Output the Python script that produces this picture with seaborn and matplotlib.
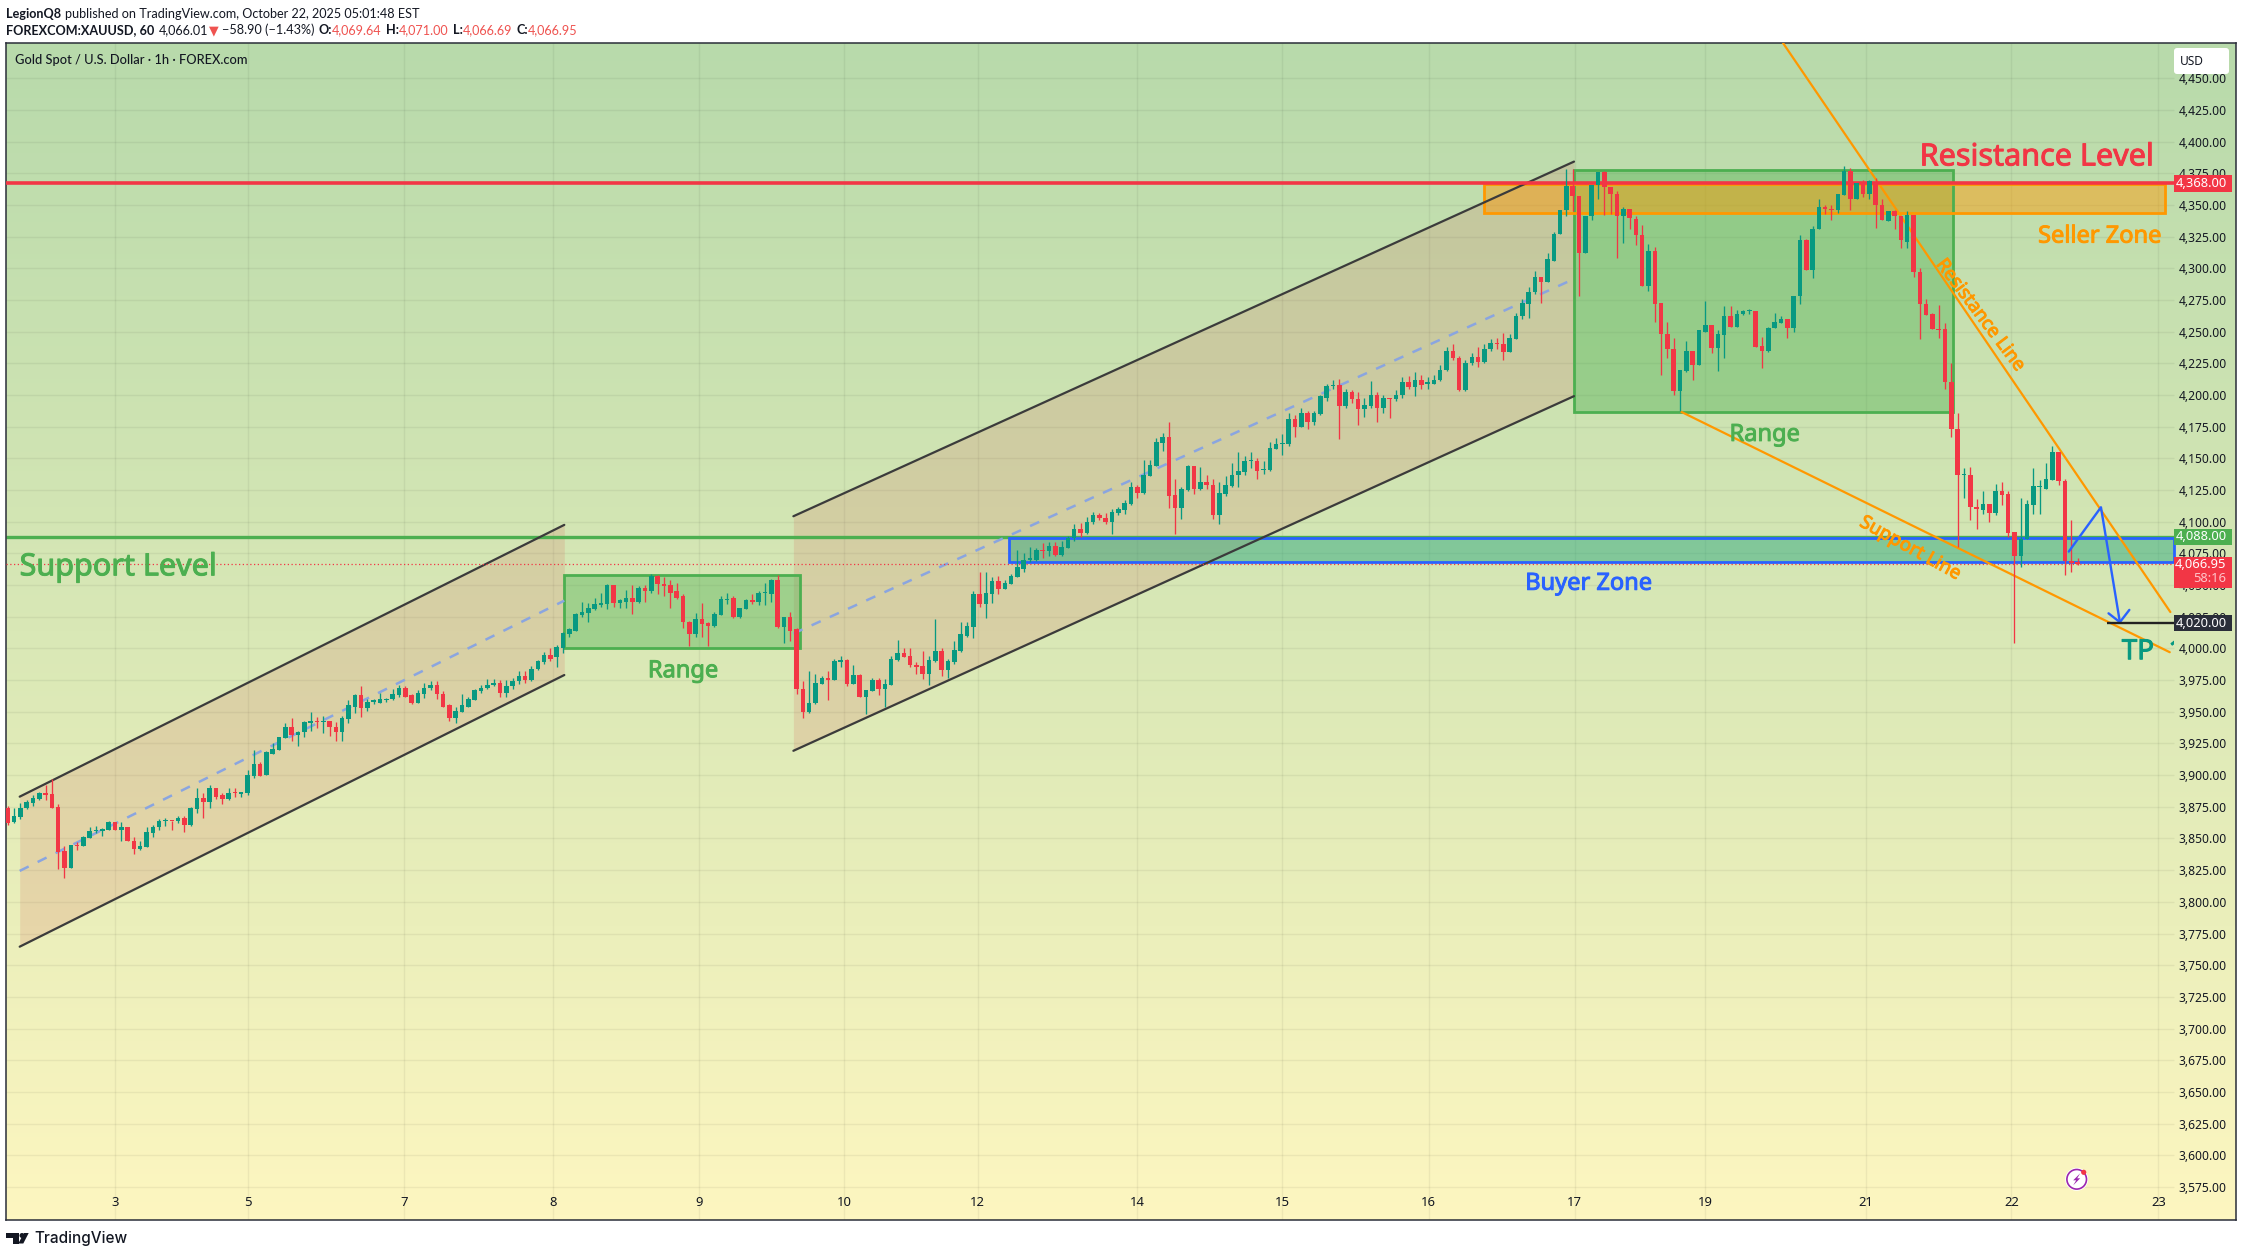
import numpy as np
import matplotlib
matplotlib.use('Agg')
import matplotlib.pyplot as plt
import matplotlib.patheffects as pe
import seaborn as sns
from matplotlib.patches import Rectangle, Circle, Polygon, FancyBboxPatch
from matplotlib.transforms import IdentityTransform

# OHLC, one block per stretch of the chart
opens_a = [3874,3863,3867,3874,3878,3881,3886,3885,3875,3840,3827,3845,3844,3850,3856,3856,3857,3863,3857,3859,
           3848,3842,3843,3854,3859,3864,3864,3863.5,3866,3861,3873,3882,3879,3889.5,3884,3881,3886,3885,3886,3899,
           3909,3900,3917,3920,3929,3938,3932,3934,3941,3942.5,3942,3942.5,3938,3934,3944,3954,3963,3953,3958,3957,
           3959,3960,3963,3969,3963,3957,3964,3969,3971,3964,3955,3945,3950,3954,3959,3966,3969,3971,3973,3965,
           3970,3974,3978,3975]
closes_a = [3862,3868,3874,3879,3882,3886,3884,3874,3839,3827,3845,3844,3851,3856,3856.5,3857.5,3863,3857,3859,3848,
            3842,3844,3855,3859,3864,3864.5,3863.5,3866,3861,3874,3882,3879,3889.5,3883,3881,3886,3885.5,3887,3900,3909,
            3899.5,3918,3921,3930,3938,3932,3934,3942,3942.5,3942,3942,3938,3934,3945,3955,3963,3953,3958,3958,3960,
            3960,3964,3969,3962,3957,3965,3969,3971,3964,3954,3945,3951,3955,3960,3967,3969,3971,3973,3965,3970,
            3974,3978,3975,3984]
highs_a = [3876,3874,3878,3880,3884,3887,3892,3897,3877,3844,3845,3847,3852,3859,3860,3858,3863.5,3863,3863,3859,
           3851,3848,3859,3861,3865,3866,3864,3867.5,3867.5,3875,3890,3886,3892,3889.5,3886,3889.5,3889.5,3887,3904,3920,
           3910,3919,3925,3930,3941,3945,3935,3943,3949.5,3946,3947,3943,3942,3947,3959,3964,3970,3960,3960,3965,
           3961,3968,3971,3970,3964,3967,3973,3974,3974,3966,3956,3954,3964,3962,3968,3971,3976,3976,3975,3975,
           3977,3982,3982,3986]
lows_a = [3861,3862,3865,3873,3876,3880,3880,3874,3826,3819,3827,3841,3844,3850,3854,3852,3857,3857,3848,3848,
          3838,3841,3843,3851,3857,3860,3857,3862,3855,3860,3870,3866,3874,3881,3877,3880,3883,3883,3884,3898,
          3899,3900,3917,3920,3929,3927,3923,3930,3935,3937,3933,3931,3927,3927,3941,3949,3946,3951,3956,3957,
          3958,3959,3962,3962,3956,3957,3961,3967,3960,3954,3943,3941,3950,3954,3959,3965,3968,3970,3962,3962,
          3968,3972,3973,3974]

opens_b = [3984,3989,3995,3993,4000,4011,4014,4026,4028,4031,4034,4035,4050,4036,4037,4040,4037,4048,4045,4057,
           4051,4050,4045,4041,4021,4011,4023,4020,4018,4026,4038,4040,4025,4031,4038,4037,4044,4043,4054,4017,
           4025,4015,3968,3950,3957,3972,3977,3975,3989,3991,3972,3979,3962,3966,3975,3968,3971,3991,3996,3994,
           3987,3986,3980,3990,3998,3983,3989,3998,4010,4017,4043,4035,4043,4053,4047,4051,4056,4063,4070,4070,
           4078,4077,4081,4074,4079]
closes_b = [3990,3995,3992,4001,4012,4015,4027,4029,4032,4035,4036,4050,4036,4038,4040,4037,4048,4045,4057,4051,
            4049,4044,4040,4021,4011,4023,4019,4018,4027,4039,4039,4025,4032,4038,4037,4044,4044,4054,4017,4025,
            4014,3968,3950,3957,3973,3977,3975,3990,3991,3972,3979,3962,3967,3975,3968,3972,3992,3996,3993,3987,
            3985,3980,3991,3998,3983,3990,3999,4011,4018,4043,4035,4044,4053,4047,4052,4057,4064,4070,4071,4078,
            4077,4081,4074,4080,4087]
highs_b = [3991,3997,4000,4003,4013,4016,4028,4037,4036,4040,4044,4051,4050,4039,4046,4050,4049,4050,4059,4058,
           4056,4054,4052,4043,4022,4028,4036,4021,4029,4041,4044,4041,4032,4039,4043,4045,4052,4055,4058,4025,
           4029,4016,3974,3982,3980,3978,3982,3992,3994,3992,3987,3980,3967,3977,3977,3976,3994,4007,4000,4000,
           3989,3998,3994,4023,4000,3992,4006,4021,4021,4045,4060,4060,4056,4057,4054,4059,4078,4075,4080,4079,
           4083,4084,4084,4085,4089]
lows_b = [3983,3988,3990,3985,3996,4009,4014,4025,4021,4030,4033,4031,4033,4032,4032,4027,4036,4037,4044,4043,
          4041,4032,4039,4016,4002,4009,4009,4002,4017,4026,4035,4024,4024,4031,4035,4034,4034,4037,4016,4004,
          4006,3964,3945,3949,3956,3972,3959,3975,3985,3970,3972,3962,3948,3966,3963,3954,3971,3990,3993,3985,
          3980,3976,3971,3989,3978,3977,3988,3997,4009,4008,4033,4024,4036,4043,4047,4051,4056,4060,4068,4069,
          4071,4073,4073,4073,4079]

opens_c = [4087,4094,4091,4100,4105,4103,4100,4107,4109,4114,4127,4123,4136,4144,4162,4167,4121,4111,4125,4144,
           4126,4131,4129,4105,4122,4128,4137,4139,4148,4148,4141,4141,4157,4161,4161,4181,4175,4186,4179,4185,
           4198,4207,4208,4191,4202,4197,4189,4191,4200,4190,4198,4197,4200,4210,4206,4212,4209,4209,4212,4220,
           4235,4229,4204,4225,4230,4226,4236,4241]
closes_c = [4094,4091,4100,4105,4103,4100,4108,4110,4115,4127,4123,4137,4145,4163,4167,4120,4111,4126,4144,4126,
            4131,4129,4105,4123,4129,4137,4140,4148,4148.5,4140,4141.5,4158,4161,4161.5,4181,4175,4186,4179,4186,4199,
            4207,4207.5,4191,4202,4197,4189,4192,4200,4190,4198,4197,4200,4210,4206,4212,4208,4210,4212,4220,4235,
            4229,4204,4225,4230,4226,4236,4241,4240]
highs_c = [4098,4099,4104,4108,4107,4107,4110,4112,4117,4131,4129,4149,4149,4166,4170,4179,4134,4127,4145,4144,
           4143,4137,4134,4131,4136,4146,4155,4152,4155,4150,4148,4163,4166,4169,4186,4184,4190,4187,4187,4200,
           4209,4212,4213,4205,4204,4202,4198,4211,4202,4200,4198,4204,4214,4215,4218,4216,4214,4216,4224,4238,
           4240,4231,4228,4233,4238,4240,4244,4245]
lows_c = [4085,4088,4090,4098,4101,4098,4090,4105,4106,4113,4119,4122,4136,4144,4156,4111,4090,4102,4124,4122,
          4125,4126,4102,4098,4120,4127,4127,4137,4142,4134,4138,4140,4157,4153,4160,4167,4175,4173,4176,4184,
          4195,4205,4165,4190,4194,4176,4183,4190,4179,4186,4182,4195,4198,4205,4199,4205,4205,4209,4211,4219,
          4228,4203,4203,4224,4222,4225,4235,4236]

opens_d = [4240,4234,4244,4262,4272,4281,4293,4289,4306,4327,4346,4365,4357,4312,4341,4366,4376,4364,4359,4341,
           4347,4339,4326,4286,4314,4273,4248,4236,4203,4219,4235,4224,4250,4255,4237,4247,4262,4254,4264,4266,4266.5,
           4239,4235,4253,4257,4260,4253,4278,4322,4299,4331,4348,4347,4346,4358,4377,4355,4367,4359,4368,4350,
           4337,4345,4341,4321,4342,4297,4272,4264,4252,4252,4210]
closes_d = [4234,4245,4262,4273,4281,4293,4289,4307,4327,4346,4365,4357,4312,4341,4366,4376,4364,4359,4341,4347,
            4340,4326,4286,4314,4272,4248,4236,4203,4220,4235,4224,4251,4255,4237,4248,4262,4254,4264,4266,4266.5,4238,
            4235,4253,4258,4260,4253,4278,4322,4299,4331,4348,4347,4346,4359,4377,4355,4367,4359,4369,4350,4338,
            4345,4341,4322,4342,4297,4272,4263,4252,4251.5,4210,4173]
highs_d = [4249,4248,4265,4276,4285,4298,4293,4312,4329,4346,4378,4378,4357,4341,4366,4376,4377,4364,4361,4348,
           4347,4341,4334,4319,4317,4273,4258,4245,4220,4243,4235,4251,4274,4255,4251,4270,4270,4267,4267,4268,4266,
           4246,4254,4265,4262,4260,4278,4326,4323,4333,4355,4350,4350,4359,4381,4379,4367,4370,4370,4371,4355,
           4345,4346,4341,4345,4342,4300,4276,4265,4271,4257,4225]
lows_d = [4228,4234,4244,4260,4261,4280,4273,4289,4306,4327,4341,4345,4278,4312,4338,4355,4342,4343,4308,4320,
          4331,4318,4286,4282,4258,4216,4229,4200,4187,4218,4212,4224,4250,4233,4219,4229,4254,4254,4263,4264,4238,
          4221,4234,4253,4257,4245,4250,4272,4299,4292,4331,4343,4338,4344,4358,4346,4355,4356,4355,4332,4338,
          4337,4331,4316,4316,4293,4244,4263,4252,4245,4205,4167]

opens_e = [4173,4137,4137,4112,4109,4114,4107,4124,4122,4092,4073,4086,4113,4127,4126,4133,4155,4132,4069,4068]
closes_e = [4137,4137,4112,4110,4114,4107,4124,4121,4091,4073,4086,4114,4128,4127,4134,4155,4132,4069,4067.5,4066.95]
highs_e = [4186,4142,4143,4118,4124,4114,4130,4131,4124,4092,4119,4117,4142,4133,4146,4160,4155,4134,4101,4071]
lows_e = [4080,4119,4101,4094,4106,4100,4105,4113,4088,4004,4064,4086,4106,4106,4126,4133,4129,4058,4060,4066]

opens = np.array(opens_a + opens_b + opens_c + opens_d + opens_e)
closes = np.array(closes_a + closes_b + closes_c + closes_d + closes_e)
highs = np.array(highs_a + highs_b + highs_c + highs_d + highs_e)
lows = np.array(lows_a + lows_b + lows_c + lows_d + lows_e)

day_labels = ['3', '5', '7', '8', '9', '10', '12', '14', '15', '16', '17', '19', '21', '22', '23']
day_bars = [17, 38, 62.8, 86.4, 109.5, 132.6, 153.7, 179, 202, 225.2, 248.3, 269, 294.5, 317.5, 340.8]
price_ticks = list(range(3575, 4475, 25))

W, H = 2242, 1257
GREEN, RED = '#089981', '#f23645'
RANGE_C, ORANGE, BLUE = '#4caf50', '#ff9800', '#2962ff'
TEXT_C = '#131722'
AXIS_END = 343.2  # where the price scale begins

sns.set_theme(style='white')
plt.rcParams['font.family'] = ['Noto Sans', 'DejaVu Sans']

fig = plt.figure(figsize=(W / 100, H / 100), dpi=100, facecolor='white')
ax = fig.add_axes([6 / W, 1 - 1220 / H, (2236 - 6) / W, (1220 - 43) / H])

x0, x1 = -0.27, 353.1
y0, y1 = 3548.9, 4477.8

# background gradient
cmap = sns.blend_palette(['#b8daab', '#d9e8b6', '#fdf6c0'], as_cmap=True)
ax.imshow(np.linspace(0, 1, 256).reshape(-1, 1), cmap=cmap, aspect='auto', origin='upper',
          extent=(x0, x1, y0, y1), zorder=0)

# grid
ax.hlines(price_ticks, x0, AXIS_END, color='#000000', alpha=0.055, lw=1.0, zorder=1)
ax.vlines(day_bars, y0, y1, color='#000000', alpha=0.055, lw=1.0, zorder=1)


def box(a, b, low, high, face, edge, alpha, lw=2.0, z=2):
    ax.add_patch(Rectangle((a, low), b - a, high - low, facecolor=face, alpha=alpha, edgecolor='none', zorder=z))
    ax.add_patch(Rectangle((a, low), b - a, high - low, facecolor='none', edgecolor=edge, lw=lw, zorder=z + 0.2))


def seg(xs, ys, color, lw=1.6, z=3, **kw):
    sns.lineplot(x=xs, y=ys, ax=ax, color=color, lw=lw, zorder=z, sort=False, legend=False, **kw)


def note(x, y, txt, color, size, **kw):
    return ax.text(x, y, txt, color=color, fontsize=size, ha=kw.pop('ha', 'center'), va='center', zorder=6,
                   path_effects=[pe.withStroke(linewidth=0.7, foreground=color)], **kw)


# channels
for a, b, lo0, lo1, hi0, hi1, m0, m1 in [(1.9, 88.2, 3764.6, 3979, 3883, 4097.5, 3824.4, 4037.7),
                                        (124.5, 248.2, 3919.2, 4199.1, 4104.3, 4384.2, 4011.7, 4291.6)]:
    ax.fill_between([a, b], [lo0, lo1], [hi0, hi1], color='#d45e54', alpha=0.17, lw=0, zorder=1.5)
    seg([a, b], [lo0, lo1], '#3b3b3b')
    seg([a, b], [hi0, hi1], '#3b3b3b')
    seg([a, b], [m0, m1], '#8aa5e0', lw=1.8, linestyle=(0, (4, 4)))

# zones and boxes
box(88.2, 125.6, 4000.5, 4058, RANGE_C, RANGE_C, 0.40)
box(248.2, 308.3, 4186.7, 4377.4, RANGE_C, RANGE_C, 0.40)
box(233.9, 341.8, 4343.5, 4366.5, ORANGE, ORANGE, 0.45)
box(158.7, AXIS_END, 4068.5, 4087, '#1fa37a', BLUE, 0.45)

# levels
ax.hlines(4367, x0, AXIS_END, color=RED, lw=2.6, zorder=3.2)
ax.hlines(4088, x0, AXIS_END, color=RANGE_C, lw=2.4, zorder=2.1)
ax.hlines(4066.95, x0, AXIS_END, color=RED, lw=0.9, linestyles=(0, (1, 2)), zorder=3)

# trend lines
seg([281.3, 342.7], [4477.9, 4028.7], ORANGE, lw=1.6)
seg([265.2, 342.6], [4186.7, 3997], ORANGE, lw=1.6)

# candles
bars_x = np.arange(len(opens))
up = closes >= opens
body_low = np.minimum(opens, closes)
body_h = np.maximum(np.abs(closes - opens), 0.9)
colors = np.where(up, GREEN, RED)
ax.vlines(bars_x, lows, highs, colors=colors, lw=0.95, zorder=4)
ax.bar(bars_x, body_h, bottom=body_low, width=0.72, color=colors, lw=0, zorder=4.1)

# projected path
seg([326.6, 331.7, 334.7], [4076.4, 4111.4, 4020.7], BLUE, lw=1.7, z=5)
seg([332.9, 334.7, 336.2], [4027.7, 4020.7, 4030.4], BLUE, lw=1.7, z=5)
ax.hlines(4020, 332.6, AXIS_END, color='#222222', lw=1.7, zorder=5)

# chart notes
note(17.5, 4064, 'Support Level', RANGE_C, 22)
note(321.5, 4387.5, 'Resistance Level', RED, 22)
note(331.5, 4325, 'Seller Zone', ORANGE, 17)
note(250.5, 4051, 'Buyer Zone', BLUE, 17)
note(107, 3982, 'Range', RANGE_C, 17)
note(278.4, 4168.5, 'Range', RANGE_C, 17)
note(312.6, 4263, 'Resistance Line', ORANGE, 13.5, rotation=-53, rotation_mode='anchor')
note(301.5, 4079, 'Support Line', ORANGE, 13.5, rotation=-29, rotation_mode='anchor')
tp = note(335, 3997, 'TP  1', GREEN, 20, ha='left', clip_on=True)
tp.set_clip_path(Rectangle((x0, y0), AXIS_END - x0, y1 - y0, transform=ax.transData))

# axes
ax.set_xlim(x0, x1)
ax.set_ylim(y0, y1)
ax.set_xlabel('')
ax.set_ylabel('')
ax.set_xticks(day_bars, day_labels)
ax.set_yticks(price_ticks, [f'{p:,.2f}' for p in price_ticks])
ax.yaxis.tick_right()
ax.tick_params(axis='y', length=0, pad=-41.5, labelsize=8.7, labelcolor=TEXT_C)
ax.tick_params(axis='x', length=0, pad=-17, labelsize=9.4, labelcolor=TEXT_C)
for s in ax.spines.values():
    s.set_color('#2a2e39')
    s.set_linewidth(1.1)


def tag(low, high, color, lines):
    ax.add_patch(Rectangle((AXIS_END, low), x1 - AXIS_END - 0.6, high - low, facecolor=color, edgecolor='none', zorder=7))
    for y, txt, c in lines:
        ax.text(x1 - 1.5, y, txt, color=c, fontsize=9.3, ha='right', va='center', zorder=8)


tag(4360.5, 4373.5, RED, [(4367, '4,368.00', 'white')])
tag(4081.5, 4094.5, RANGE_C, [(4088, '4,088.00', 'white')])
tag(4047.5, 4072.5, RED, [(4066.5, '4,066.95', 'white'), (4055, '58:16', '#ffc4c9')])
tag(4013.5, 4026.5, '#2a2e39', [(4020, '4,020.00', 'white')])


# page furniture in pixel coordinates
def px(x, y):
    return (x, H - y)


idt = IdentityTransform()
fig.add_artist(FancyBboxPatch(px(2174, 74), 55, 26, boxstyle='round,pad=0,rounding_size=3', facecolor='white',
                              edgecolor='none', transform=idt, zorder=9))
fig.text(2192 / W, 1 - 61.5 / H, 'USD', fontsize=8.6, color=TEXT_C, ha='center', va='center', zorder=10)

head_font = ['Lato', 'DejaVu Sans']


def chain(parts, x, y, size=9.1):
    prev = fig.text(x / W, 1 - y / H, parts[0][0], fontsize=size, color=parts[0][1], fontweight=parts[0][2],
                    family=head_font, va='bottom')
    for txt, col, wt, gap in parts[1:]:
        prev = ax.annotate(txt, xy=(1, 0), xycoords=prev, xytext=(gap, 0), textcoords='offset points',
                           fontsize=size, color=col, fontweight=wt, family=head_font, va='bottom',
                           annotation_clip=False)


UP_T = '#ef5350'
chain([('LegionQ8', TEXT_C, 'bold'),
       ('published on TradingView.com, October 22, 2025 05:01:48 EST', TEXT_C, 'normal', 2.5)], 6, 19.5)
chain([('FOREXCOM:XAUUSD, 60', TEXT_C, 'bold'),
       ('4,066.01', TEXT_C, 'normal', 3),
       ('▼', UP_T, 'normal', 1),
       ('−58.90 (−1.43%)', TEXT_C, 'normal', 2),
       ('O:', TEXT_C, 'bold', 3),
       ('4,069.64', UP_T, 'normal', 0),
       ('H:', TEXT_C, 'bold', 3),
       ('4,071.00', UP_T, 'normal', 0),
       ('L:', TEXT_C, 'bold', 3),
       ('4,066.69', UP_T, 'normal', 0),
       ('C:', TEXT_C, 'bold', 3),
       ('4,066.95', UP_T, 'normal', 0)], 6, 36.5)
fig.text(15 / W, 1 - 60 / H, 'Gold Spot / U.S. Dollar · 1h · FOREX.com', fontsize=9.3, color=TEXT_C,
         family=head_font, fontweight='medium', va='center', zorder=10)

# lightning badge
cx, cy = 2076.7, 1179.3
fig.add_artist(Circle(px(cx, cy), 11.5, facecolor='white', edgecolor='none', transform=idt, zorder=9))
fig.add_artist(Circle(px(cx, cy), 9.8, facecolor='white', edgecolor='#9c27b0', lw=1.2, transform=idt, zorder=10))
bolt = [(3.5, -6), (-3.5, 1), (-0.5, 1), (-3.5, 6), (3.5, -1), (0.5, -1)]
fig.add_artist(Polygon([px(cx + a, cy + b) for a, b in bolt], facecolor='#9c27b0', edgecolor='none',
                       transform=idt, zorder=11))
fig.add_artist(Circle(px(cx + 7, cy - 7), 2.6, facecolor=RED, edgecolor='none', transform=idt, zorder=11))

# TradingView mark
logo = '#131722'
for pts in [[(6, 1233), (18.7, 1233), (18.7, 1243.5), (12.7, 1243.5), (12.7, 1238), (6, 1238)],
            [(24, 1233), (28.7, 1233), (23.3, 1243.5), (18.3, 1243.5)]]:
    fig.add_artist(Polygon([px(a, b) for a, b in pts], facecolor=logo, edgecolor='none', transform=idt))
fig.add_artist(Circle(px(22, 1235.5), 2.5, facecolor=logo, edgecolor='none', transform=idt))
fig.text(34 / W, 1 - 1238.5 / H, 'TradingView', fontsize=11, color=logo, family=['Inter', 'DejaVu Sans'],
         fontweight='medium', va='center')

fig.savefig('out.png', dpi=100, facecolor='white')
